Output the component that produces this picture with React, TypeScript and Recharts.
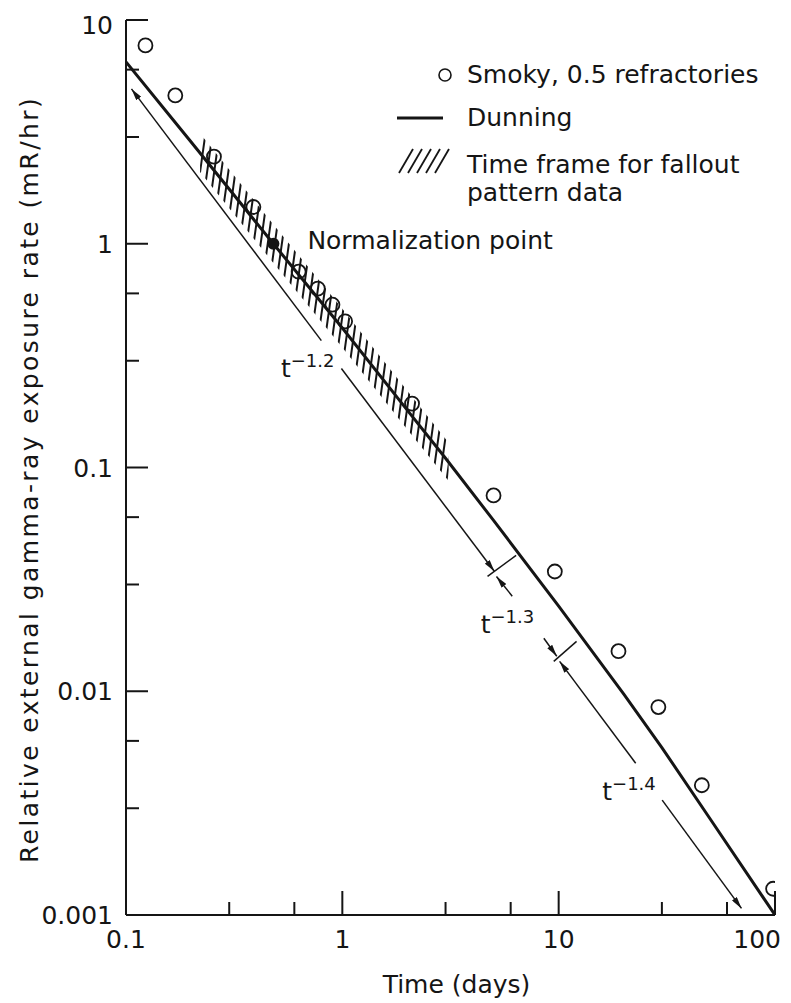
import React from 'react';
import {
  ComposedChart, Line, Area, Scatter, XAxis, YAxis, ReferenceDot, Legend, Label
} from 'recharts';

// axis ticks (decades get labels, 3 and 6 get short marks)
const xTicks = [0.1, 0.3, 0.6, 1, 3, 6, 10, 30, 60, 100];
const yTicks = [0.001, 0.003, 0.006, 0.01, 0.03, 0.06, 0.1, 0.3, 0.6, 1, 3, 6, 10];

// Smoky, 0.5 refractories (open circles)
const smokyX = [0.123, 0.169, 0.255, 0.388, 0.628, 0.77, 0.9, 1.03, 2.1, 5.0, 9.6, 18.9, 28.9, 45.9, 98];
const smokyY = [7.7, 4.6, 2.45, 1.46, 0.75, 0.63, 0.534, 0.45, 0.193, 0.075, 0.0343, 0.0151, 0.0085, 0.0038, 0.00131];

// Dunning curve
const dunningX = [0.1, 0.2, 0.48, 1, 2, 3, 5, 10, 20, 30, 50, 100];
const dunningY = [6.5, 2.85, 1.0, 0.42, 0.18, 0.11, 0.058, 0.024, 0.0097, 0.0056, 0.0027, 0.001];

const normX = [0.48];
const normY = [1];

// hatched band: time frame for fallout pattern data
const hatchX = [0.22, 0.48, 1, 2, 3.1];
const hatchLow = [2.09, 0.82, 0.344, 0.1475, 0.087];
const hatchHigh = [3.11, 1.22, 0.512, 0.22, 0.129];

// t^-n guide segments, arrow at start or end
const guideX = [[0.106, 0.8], [0.99, 5.05], [5.16, 6.1], [8.54, 9.8], [10.1, 22.7], [30.1, 70]];
const guideY = [[4.92, 0.369], [0.277, 0.0343], [0.0326, 0.0266], [0.01725, 0.01433], [0.0136, 0.00477], [0.00326, 0.00107]];
const guideArrow = ['start', 'end', 'start', 'end', 'start', 'end'];

// cross marks between the t^-n regimes
const crossX = [[4.69, 6.36], [9.49, 12.1]];
const crossY = [[0.0326, 0.0405], [0.0136, 0.0167]];

const powerLabels = ['\u22121.2', '\u22121.3', '\u22121.4'];
const powerX = [0.52, 4.36, 15.9];
const powerY = [0.255, 0.0183, 0.00326];

const FONT = '"DejaVu Sans", sans-serif';
const INK = '#151515';

const toPoints = (xs: number[], ys: number[]) => xs.map((x, i) => ({ x, y: ys[i] }));
const bandData = hatchX.map((x, i) => ({ x, band: [hatchLow[i], hatchHigh[i]] }));

const isDecade = (v: number) => Math.abs(Math.log10(v) - Math.round(Math.log10(v))) < 1e-6;

const BottomTick = (props: any) => {
  const { x, y, payload } = props;
  const major = isDecade(payload.value);
  const last = payload.value === 100;
  return (
    <g>
      <line x1={x} x2={x} y1={y} y2={y - (major ? 24 : 13)} stroke={INK} strokeWidth={2} />
      {major && (
        <text x={last ? x + 6 : x} y={y + 33} textAnchor={last ? 'end' : 'middle'} fontSize={25} fill={INK} fontFamily={FONT}>
          {String(payload.value)}
        </text>
      )}
    </g>
  );
};

const TopTick = (props: any) => {
  const { x, y, payload } = props;
  const major = isDecade(payload.value);
  return <line x1={x} x2={x} y1={y} y2={y + (major ? 22 : 13)} stroke={INK} strokeWidth={2} />;
};

const LeftTick = (props: any) => {
  const { x, y, payload } = props;
  const major = isDecade(payload.value);
  // the top label sits a little below its tick, as in the original
  const shift = payload.value === 10 ? 5 : 0;
  return (
    <g>
      <line x1={x} x2={x + (major ? 22 : 13)} y1={y} y2={y} stroke={INK} strokeWidth={2} />
      {major && (
        <text x={x - 13} y={y + 9 + shift} textAnchor="end" fontSize={25} fill={INK} fontFamily={FONT}>
          {String(payload.value)}
        </text>
      )}
    </g>
  );
};

const RightTick = (props: any) => {
  const { x, y, payload } = props;
  const major = isDecade(payload.value);
  return <line x1={x} x2={x - (major ? 22 : 13)} y1={y} y2={y} stroke={INK} strokeWidth={2} />;
};

const XTitle = (props: any) => {
  const { viewBox } = props;
  return (
    <text x={viewBox.x + viewBox.width / 2 + 6} y={viewBox.y + 78} textAnchor="middle" fontSize={25} fill={INK} fontFamily={FONT}>
      Time (days)
    </text>
  );
};

const YTitle = (props: any) => {
  const { viewBox } = props;
  const cx = viewBox.x + 30;
  const cy = viewBox.y + viewBox.height / 2 + 12;
  return (
    <text x={cx} y={cy} transform={`rotate(-90, ${cx}, ${cy})`} textAnchor="middle" fontSize={25} letterSpacing={2.4} fill={INK} fontFamily={FONT}>
      Relative external gamma-ray exposure rate (mR/hr)
    </text>
  );
};

const OpenCircle = (p: any) => <circle cx={p.cx} cy={p.cy} r={7} fill="none" stroke={INK} strokeWidth={1.8} />;
const FilledCircle = (p: any) => <circle cx={p.cx} cy={p.cy} r={6} fill={INK} />;

const PowerText = (exp: string) => (p: any) => (
  <text x={p.cx} y={p.cy} fontSize={25} fill={INK} fontFamily={FONT}>
    t<tspan dy={-10} fontSize={18}>{exp}</tspan>
  </text>
);

const NormText = (p: any) => (
  <text x={p.cx + 34} y={p.cy + 5} fontSize={25} fill={INK} fontFamily={FONT}>Normalization point</text>
);

const LegendBox = () => (
  <svg width={400} height={170} style={{ overflow: 'visible' }}>
    <circle cx={60} cy={25} r={6} fill="none" stroke={INK} strokeWidth={1.6} />
    <text x={82} y={33} fontSize={25} fill={INK} fontFamily={FONT}>Smoky, 0.5 refractories</text>
    <line x1={12} x2={58} y1={68} y2={68} stroke={INK} strokeWidth={3} />
    <text x={82} y={76} fontSize={25} fill={INK} fontFamily={FONT}>Dunning</text>
    {[0, 1, 2, 3, 4].map(i => (
      <line key={i} x1={14 + i * 9} y1={123} x2={28 + i * 9} y2={99} stroke={INK} strokeWidth={1.8} />
    ))}
    <text x={82} y={123} fontSize={25} fill={INK} fontFamily={FONT}>Time frame for fallout</text>
    <text x={82} y={151} fontSize={25} fill={INK} fontFamily={FONT}>pattern data</text>
  </svg>
);

const App: React.FC = () => {
  return (
    <div style={{ width: 783, height: 995, fontFamily: FONT, background: '#fff' }}>
      <ComposedChart width={783} height={995} data={bandData} margin={{ top: 12, right: 16, left: 0, bottom: 28 }}>
        <defs>
          <pattern id="hatch" patternUnits="userSpaceOnUse" width={7} height={7} patternTransform="rotate(8)">
            <line x1={3} y1={0} x2={3} y2={7} stroke={INK} strokeWidth={2} />
          </pattern>
          <marker id="arrow" viewBox="0 0 12 6" refX={12} refY={3} markerWidth={12} markerHeight={6}
            markerUnits="userSpaceOnUse" orient="auto-start-reverse">
            <path d="M0,0 L12,3 L0,6 z" fill={INK} />
          </marker>
        </defs>

        <XAxis dataKey="x" type="number" scale="log" domain={[0.1, 100]} allowDataOverflow ticks={xTicks}
          interval={0} height={60} tickSize={0} tickMargin={0} tickLine={false} tick={BottomTick}
          axisLine={{ stroke: INK, strokeWidth: 2 }}>
          <Label content={XTitle} />
        </XAxis>
        <XAxis xAxisId="top" orientation="top" dataKey="x" type="number" scale="log" domain={[0.1, 100]}
          allowDataOverflow ticks={xTicks} interval={0} height={0} tickSize={0} tickMargin={0} tickLine={false}
          tick={TopTick} axisLine={{ stroke: INK, strokeWidth: 2 }} />
        <YAxis dataKey="y" type="number" scale="log" domain={[0.001, 10]} allowDataOverflow ticks={yTicks}
          interval={0} width={118} tickSize={0} tickMargin={0} tickLine={false} tick={LeftTick}
          axisLine={{ stroke: INK, strokeWidth: 2 }}>
          <Label content={YTitle} />
        </YAxis>
        <YAxis yAxisId="right" orientation="right" dataKey="y" type="number" scale="log" domain={[0.001, 10]}
          allowDataOverflow ticks={yTicks} interval={0} width={0} tickSize={0} tickMargin={0} tickLine={false}
          tick={RightTick} axisLine={{ stroke: INK, strokeWidth: 2 }} />

        <Area dataKey="band" type="linear" stroke="none" fill="url(#hatch)" fillOpacity={1} isAnimationActive={false} />

        {guideX.map((gx, i) => (
          <Line key={`g${i}`} data={toPoints(gx, guideY[i])} dataKey="y" type="linear" stroke={INK} strokeWidth={1.5}
            dot={false} activeDot={false} isAnimationActive={false}
            markerStart={guideArrow[i] === 'start' ? 'url(#arrow)' : undefined}
            markerEnd={guideArrow[i] === 'end' ? 'url(#arrow)' : undefined} />
        ))}
        {crossX.map((cx, i) => (
          <Line key={`c${i}`} data={toPoints(cx, crossY[i])} dataKey="y" type="linear" stroke={INK} strokeWidth={1.5}
            dot={false} activeDot={false} isAnimationActive={false} />
        ))}

        <Line data={toPoints(dunningX, dunningY)} dataKey="y" type="linear" stroke={INK} strokeWidth={3}
          dot={false} activeDot={false} isAnimationActive={false} />

        <Scatter data={toPoints(smokyX, smokyY)} dataKey="y" shape={OpenCircle} isAnimationActive={false} />
        <Scatter data={toPoints(normX, normY)} dataKey="y" shape={FilledCircle} isAnimationActive={false} />

        <ReferenceDot x={normX[0]} y={normY[0]} r={0} shape={NormText} />
        {powerLabels.map((lab, i) => (
          <ReferenceDot key={lab} x={powerX[i]} y={powerY[i]} r={0} shape={PowerText(lab)} />
        ))}

        <Legend layout="vertical" align="center" verticalAlign="middle" content={LegendBox}
          wrapperStyle={{ left: 377, top: 42, width: 400, height: 170 }} />
      </ComposedChart>
    </div>
  );
};

export default App;
